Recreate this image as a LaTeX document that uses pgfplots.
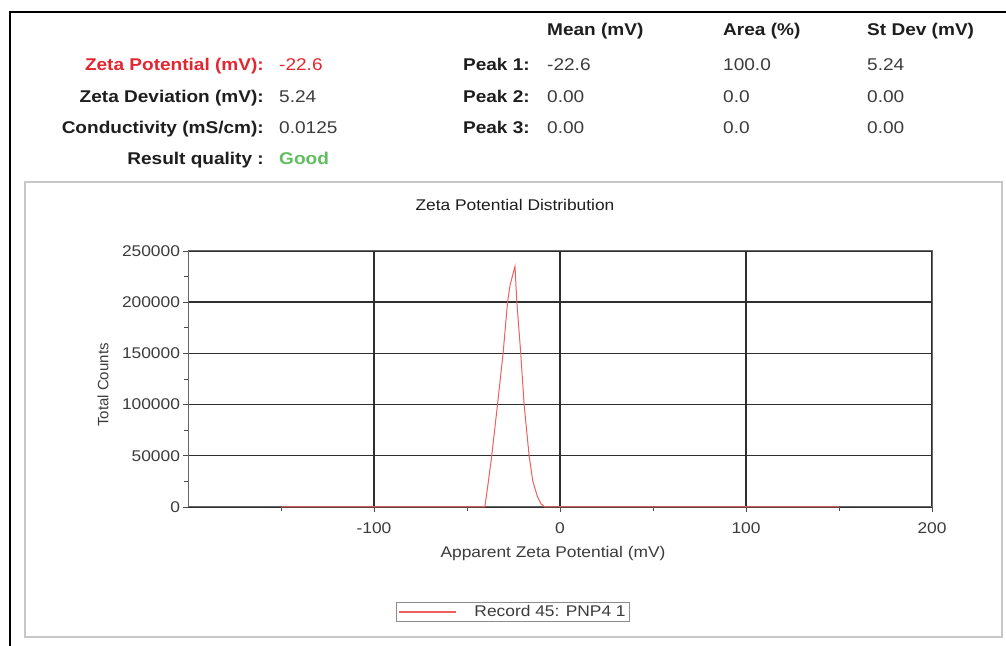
\documentclass[border=0pt]{standalone}
\usepackage{fontspec}
\setmainfont{Liberation Sans}[FakeStretch=1.12]
\newfontfamily\ns{Liberation Sans}
\usepackage{pgfplots}
\pgfplotsset{compat=1.18}
\definecolor{zred}{RGB}{228,38,48}
\definecolor{zgreen}{RGB}{96,190,96}
\definecolor{lred}{RGB}{240,95,95}
\definecolor{txt}{RGB}{30,30,30}
\definecolor{val}{RGB}{60,60,60}
\newcommand\hb{\fontsize{17}{20}\selectfont\bfseries}
\newcommand\hr{\fontsize{17}{20}\selectfont}
\newcommand\cf{\fontsize{15.5}{18}\selectfont}
\begin{document}
\begin{tikzpicture}[x=1pt,y=1pt]
\useasboundingbox (0,0) rectangle (1006,645);
\fill[white] (0,0) rectangle (1006,645);
\draw[line width=2pt] (10,-5) -- (10,633) -- (1011,633);
\draw[black!22, line width=1.5pt] (25,8) rectangle (1002,463);
% left block
\node[anchor=base east, text=zred, inner sep=0] at (264,574) {\hb Zeta Potential (mV):};
\node[anchor=base east, text=txt, inner sep=0] at (264,542) {\hb Zeta Deviation (mV):};
\node[anchor=base east, text=txt, inner sep=0] at (264,511) {\hb Conductivity (mS/cm):};
\node[anchor=base east, text=txt, inner sep=0] at (264,480) {\hb Result quality :};
\node[anchor=base west, text=zred, inner sep=0] at (279,574) {\hr -22.6};
\node[anchor=base west, text=val, inner sep=0] at (279,542) {\hr 5.24};
\node[anchor=base west, text=val, inner sep=0] at (279,511) {\hr 0.0125};
\node[anchor=base west, text=zgreen, inner sep=0] at (279,480) {\hb Good};
% right block
\node[anchor=base west, text=txt, inner sep=0] at (547,609) {\hb Mean (mV)};
\node[anchor=base west, text=txt, inner sep=0] at (723,609) {\hb Area (\%)};
\node[anchor=base west, text=txt, inner sep=0] at (867,609) {\hb St Dev (mV)};
\node[anchor=base east, text=txt, inner sep=0] at (530,574) {\hb Peak 1:};
\node[anchor=base east, text=txt, inner sep=0] at (530,542) {\hb Peak 2:};
\node[anchor=base east, text=txt, inner sep=0] at (530,511) {\hb Peak 3:};
\node[anchor=base west, text=val, inner sep=0] at (547,574) {\hr -22.6};
\node[anchor=base west, text=val, inner sep=0] at (547,542) {\hr 0.00};
\node[anchor=base west, text=val, inner sep=0] at (547,511) {\hr 0.00};
\node[anchor=base west, text=val, inner sep=0] at (723,574) {\hr 100.0};
\node[anchor=base west, text=val, inner sep=0] at (723,542) {\hr 0.0};
\node[anchor=base west, text=val, inner sep=0] at (723,511) {\hr 0.0};
\node[anchor=base west, text=val, inner sep=0] at (867,574) {\hr 5.24};
\node[anchor=base west, text=val, inner sep=0] at (867,542) {\hr 0.00};
\node[anchor=base west, text=val, inner sep=0] at (867,511) {\hr 0.00};
\begin{axis}[
  at={(188pt,138pt)}, anchor=south west,
  scale only axis, width=744pt, height=256pt,
  xmin=-200, xmax=200, ymin=0, ymax=250000,
  xtick={-100,0,100,200}, minor xtick={-150,-50,50,150},
  ytick={0,50000,100000,150000,200000,250000},
  minor ytick={25000,75000,125000,175000,225000},
  xtick pos=lower, ytick pos=left,
  scaled y ticks=false, scaled x ticks=false,
  /pgf/number format/.cd, fixed, 1000 sep={}, assume math mode=true, /pgfplots/.cd,
  grid=major,
  major grid style={black!82, line width=1.4pt},
  axis line style={black!60, line width=1pt},
  tick align=outside, major tick length=5pt, minor tick length=4pt,
  every tick/.style={black!70, line width=0.9pt},
  ticklabel style={font=\cf, text=val},
  yticklabel style={xshift=0.5pt},
  xticklabel style={yshift=-7pt},
  clip=false,
  title={Zeta Potential Distribution},
  title style={at={(axis description cs:0.4395,1.155)}, anchor=center, font=\cf, text=txt},
  xlabel={Apparent Zeta Potential (mV)},
  xlabel style={at={(axis description cs:0.4906,-0.18)}, anchor=center, font=\cf, text=val},
  ylabel={Total Counts},
  ylabel style={at={(axis description cs:-0.1142,0.4766)}, anchor=center, rotate=0, font=\ns\fontsize{15}{18}\selectfont, text=val},
  legend style={at={(axis description cs:0.4368,-0.41)}, anchor=center, draw=black!45, line width=0.8pt, font=\cf, inner xsep=1.5pt, inner ysep=1.5pt},
  legend image code/.code={\draw[#1, draw=lred, line width=1.2pt] (0pt,0pt) -- (57pt,0pt);},
]
\addplot[lred, line width=1pt] table {
x y
-150 0
-41 0
-40.4 0
-38.5 25000
-36.7 50000
-33.6 100000
-30.6 150000
-28.2 200000
-26.8 217000
-24.2 235000
-23.2 200000
-21.1 150000
-19.3 100000
-16.6 50000
-14.6 25000
-12.1 10000
-10.2 3000
-8.2 0
150 0
};
\addlegendentry{\hspace{16pt}\textcolor{val}{Record 45: PNP4 1}}
\end{axis}
\end{tikzpicture}
\end{document}
